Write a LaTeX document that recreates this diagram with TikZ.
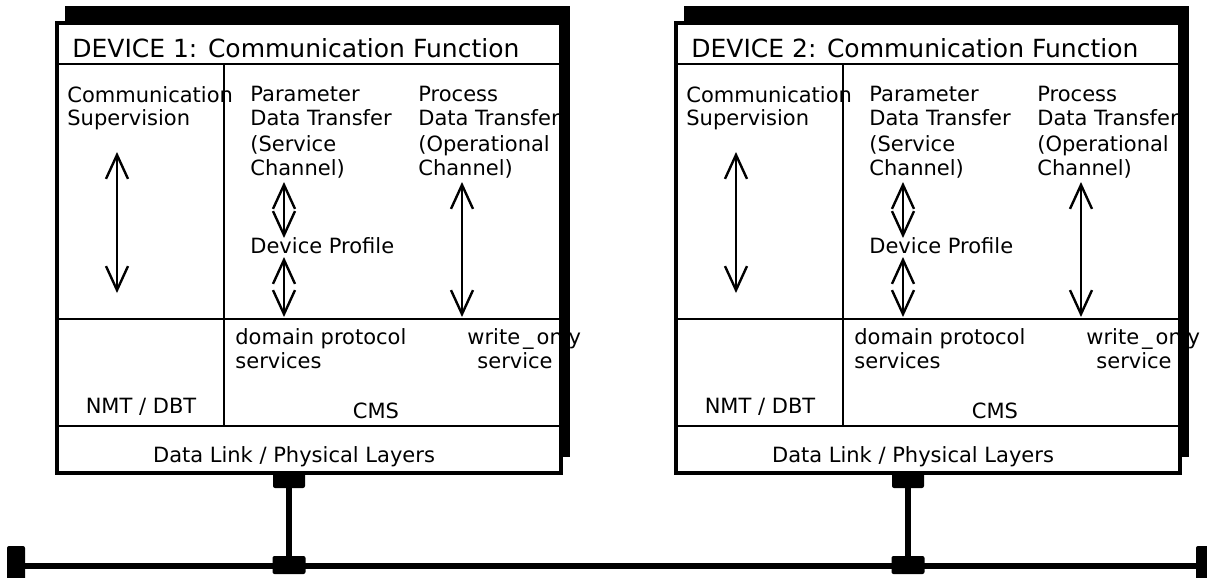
\documentclass[tikz,border=0pt]{standalone}
\usepackage{fontspec}
\setmainfont{DejaVu Sans}
\usetikzlibrary{arrows.meta}
\tikzset{
	txt/.style={inner sep=0pt,anchor=base west,align=left,font=\fontsize{10.5}{12}\selectfont},
	ttl/.style={txt,font=\fontsize{12.5}{14}\selectfont},
	barrow/.style={{Straight Barb[length=12pt,width=11pt]}-{Straight Barb[length=12pt,width=11pt]},line width=1.2pt},
	plug/.style={fill=black,inner sep=0pt,rounded corners=1pt}
}
\begin{document}
\begin{tikzpicture}[x=0.5pt,y=-0.5pt]
	\useasboundingbox (0,0) rectangle (1207,578);
	\node[plug,minimum width=9pt,minimum height=20pt] (endL) at (16,566) {}; % bout gauche du bus
	\node[plug,minimum width=9pt,minimum height=20pt] (endR) at (1205,566) {}; % bout droit du bus
	\draw[line width=2.7pt] (endL)--(endR); % le bus
	\foreach \d/\ox in {1/0,2/619}{
	\begin{scope}[shift={(\ox,0)}]
		\fill (65,6) rectangle (570,457); % l'ombre
		\draw[line width=2pt,fill=white] (57,23) rectangle (561,473);
		\draw[line width=1.3pt] (57,64)--(561,64) (224,64)--(224,426) (57,319)--(561,319) (57,426)--(561,426);
		\node[ttl] (title\d) at (72,57) {DEVICE \d: Communication Function};
		\node[txt] (sup\d) at (67,126) {Communication\\Supervision}; % base = derniere ligne
		\node[txt] (par\d) at (250,175) {Parameter\\Data Transfer\\[1pt](Service\\Channel)};
		\node[txt] (proc\d) at (418,175) {Process\\Data Transfer\\[1pt](Operational\\Channel)};
		\node[txt] (prof\d) at (250,253) {Device Profile};
		\node[txt] (dom\d) at (235,368) {domain protocol\\services};
		\node[txt] (wo\d) at (467,368) {write\kern1.5pt\_\kern1.5pt only\\\hspace{5pt}service};
		\node[txt,anchor=base] (nmt\d) at (141,413) {NMT / DBT};
		\node[txt,anchor=base] (cms\d) at (376,418) {CMS};
		\node[txt,anchor=base] (dl\d) at (294,462) {Data Link / Physical Layers};
		\coordinate (s1\d) at (117,152); \coordinate (s2\d) at (117,293);
		\coordinate (p1\d) at (284,182); \coordinate (p2\d) at (284,238);
		\coordinate (p3\d) at (284,257); \coordinate (p4\d) at (284,317);
		\coordinate (o1\d) at (462,182); \coordinate (o2\d) at (462,317);
		\draw[barrow] (s1\d)--(s2\d);
		\draw[barrow] (p1\d)--(p2\d);
		\draw[barrow] (p3\d)--(p4\d);
		\draw[barrow] (o1\d)--(o2\d);
		\node[plug,minimum width=16pt,minimum height=8.5pt] (tap\d) at (289,479.5) {}; % prise
		\node[plug,minimum width=16.5pt,minimum height=9pt] (join\d) at (289,565) {};
		\draw[line width=2.7pt] (tap\d)--(join\d);
	\end{scope}}
\end{tikzpicture}
\end{document}
